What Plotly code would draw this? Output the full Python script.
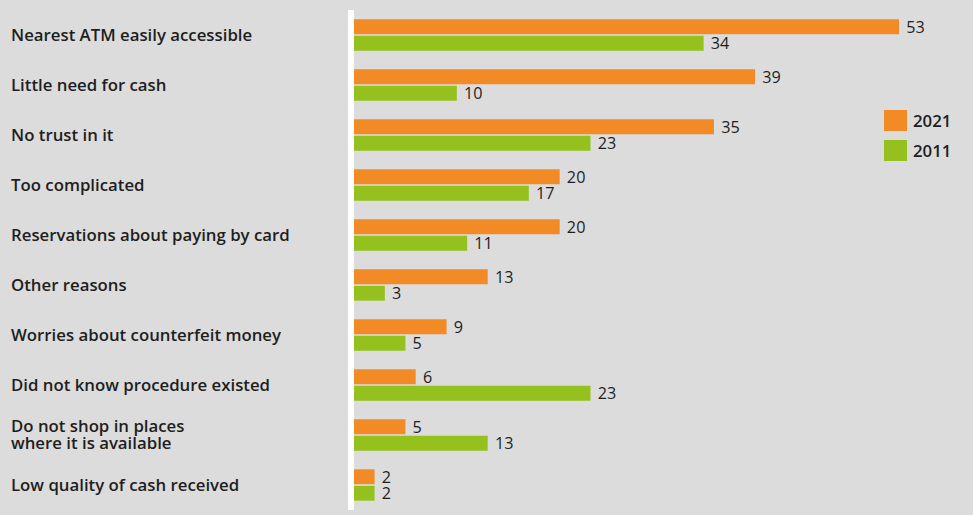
import plotly.graph_objects as go

categories = [
    "Nearest ATM easily accessible",
    "Little need for cash",
    "No trust in it",
    "Too complicated",
    "Reservations about paying by card",
    "Other reasons",
    "Worries about counterfeit money",
    "Did not know procedure existed",
    "Do not shop in places<br>where it is available",
    "Low quality of cash received",
]
values_2021 = [53, 39, 35, 20, 20, 13, 9, 6, 5, 2]
values_2011 = [34, 10, 23, 17, 11, 3, 5, 23, 13, 2]
series_names = ["2021", "2011"]

ORANGE = "#f28a26"
GREEN = "#95c11f"
BG = "#dcdcdc"
TEXT = "#1e1e1e"
FONT = "Open Sans"
LABEL_SIZE = 16.8
VALUE_SIZE = 16.2
LINE_STEP = 17  # vertical distance between wrapped label lines, px

W, H = 973, 515
ML, MR, MT, MB = 354, 2, 10, 5
PW = W - ML - MR
PH = H - MT - MB
XMAX = 60


def px_x(px):
    return (px - ML) / PW


def px_y(py):
    return (H - MB - py) / PH


fig = go.Figure()
for name, vals, col in [(series_names[0], values_2021, ORANGE),
                        (series_names[1], values_2011, GREEN)]:
    fig.add_trace(go.Bar(
        y=categories, x=vals, name=name, orientation="h",
        marker=dict(color=col, line=dict(width=0)),
        text=vals, texttemplate=" %{x}", textposition="outside",
        textfont=dict(family=FONT, size=VALUE_SIZE, color=TEXT),
        constraintext="none", cliponaxis=False,
        showlegend=False,
    ))

# category labels, left-aligned at the figure edge; wrapped labels get
# one annotation per line so the line spacing stays tight
annotations = []
for cat in categories:
    lines = cat.split("<br>")
    n = len(lines)
    for i, line in enumerate(lines):
        offset = ((n - 1) / 2 - i) * LINE_STEP
        annotations.append(dict(
            x=px_x(9), xref="paper", y=cat, yref="y", yshift=1 + offset,
            text=line, showarrow=False, xanchor="left", yanchor="middle",
            align="left",
            font=dict(family=FONT, size=LABEL_SIZE, color=TEXT, weight=600),
        ))

# legend built from squares and labels
shapes = []
legend_items = [(series_names[0], ORANGE, 110, 131), (series_names[1], GREEN, 140, 161)]
for name, col, y0, y1 in legend_items:
    shapes.append(dict(type="rect", xref="paper", yref="paper",
                       x0=px_x(884), x1=px_x(907), y0=px_y(y1), y1=px_y(y0),
                       fillcolor=col, line=dict(width=0)))
    annotations.append(dict(
        x=px_x(911), xref="paper", y=px_y((y0 + y1) / 2), yref="paper",
        text=name, showarrow=False, xanchor="left", yanchor="middle",
        font=dict(family=FONT, size=LABEL_SIZE, color=TEXT, weight=600),
    ))

fig.update_layout(
    width=W, height=H,
    margin=dict(l=ML, r=MR, t=MT, b=MB, pad=0),
    paper_bgcolor=BG, plot_bgcolor=BG,
    barmode="group", bargap=0.34, bargroupgap=0.1,
    xaxis=dict(range=[0, XMAX], showgrid=False, zeroline=False,
               showticklabels=False, showline=False, fixedrange=True),
    yaxis=dict(autorange="reversed", showticklabels=False, showgrid=False,
               zeroline=False, showline=True, linecolor="white", linewidth=6,
               ticks=""),
    annotations=annotations, shapes=shapes,
    showlegend=False,
)

fig.write_html("out.html")
